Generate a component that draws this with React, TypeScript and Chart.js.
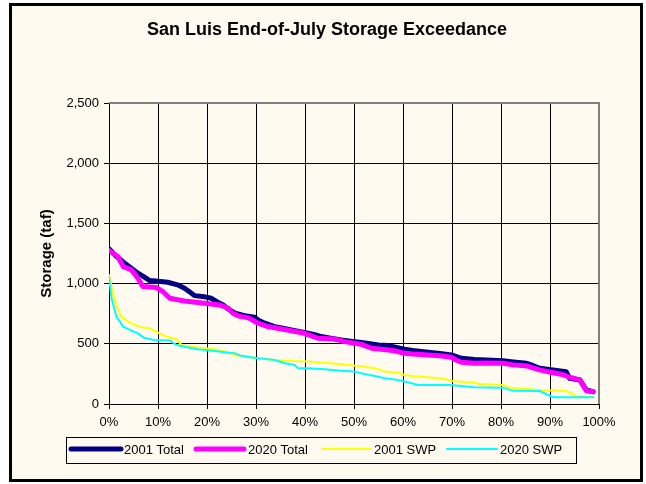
import React, { useEffect, useRef } from "react";
import { Chart, registerables } from "chart.js";

Chart.register(...registerables);

const chartTitle = "San Luis End-of-July Storage Exceedance";
const yAxisTitle = "Storage (taf)";
const seriesNames = ["2001 Total", "2020 Total", "2001 SWP", "2020 SWP"];
const seriesColors = ["#000080", "#FF00FF", "#FFFF00", "#00FFFF"];
const seriesWidths = [5, 5, 2, 2];
const yTickValues = [0, 500, 1000, 1500, 2000, 2500];
const xTickValues = [0, 10, 20, 30, 40, 50, 60, 70, 80, 90, 100];

// exceedance probability (%) and storage (taf)
const total2001Pct = [0, 1.4, 3.2, 4.5, 5.9, 7, 8.3, 10, 12, 14, 15.4, 16.5, 17.5, 19.5, 20.9, 22, 23.3, 24.3, 25.7, 27.7, 29.7, 30.5, 31.8, 33.8, 35.5, 37.2, 39, 40.6, 42, 43.3, 45.5, 47.4, 50.1, 51.5, 53.6, 55, 57, 58.7, 60.3, 62, 65.1, 67.5, 69.9, 71.9, 74.6, 77, 80.4, 82.5, 85.2, 86.5, 87.9, 90.6, 93.3, 94, 96.1, 97.4, 98.8];
const total2001Val = [1290, 1230, 1170, 1130, 1086, 1060, 1025, 1020, 1011, 990, 962, 930, 900, 890, 878, 850, 823, 790, 754, 734, 720, 695, 671, 643, 630, 615, 600, 587, 575, 560, 545, 532, 518, 510, 499, 490, 485, 470, 455, 445, 430, 420, 407, 380, 370, 365, 360, 350, 338, 320, 297, 283, 269, 213, 200, 116, 102];

const total2020Pct = [0, 1.8, 2.9, 4.6, 5.9, 6.9, 9.7, 11, 12.4, 15.4, 19.5, 22.6, 24.3, 25.3, 26.5, 28.5, 30.4, 32.4, 35, 37.2, 39.9, 41, 42.6, 46, 48.1, 50.1, 51.5, 53.6, 57, 58.5, 60.3, 62, 65.1, 67.5, 69.9, 70.8, 71.9, 74.6, 77, 80.4, 82.5, 85.2, 86.5, 87.9, 90.6, 92.5, 94, 96.1, 97.4, 98.8];
const total2020Val = [1275, 1225, 1141, 1114, 1045, 975, 967, 934, 878, 856, 837, 823, 795, 754, 730, 715, 671, 643, 625, 609, 587, 570, 546, 540, 518, 504, 495, 463, 449, 440, 421, 415, 407, 400, 388, 365, 347, 338, 340, 338, 325, 316, 300, 283, 260, 245, 222, 200, 111, 102];

const swp2001Pct = [0, 0.8, 1.5, 2.5, 4.2, 6.6, 8.3, 10, 11.7, 13.8, 14.8, 16.8, 21.6, 23.6, 26.3, 28.5, 30.4, 33.8, 37.2, 40.6, 44, 47.4, 50.8, 53.6, 55, 56.3, 59, 60.3, 62, 65.1, 68.5, 69.9, 72, 74.6, 75.6, 80.4, 82.4, 85.2, 87.9, 93.3, 95.4, 98.8];
const swp2001Val = [1072, 920, 820, 726, 676, 637, 630, 593, 560, 538, 490, 476, 454, 437, 400, 390, 380, 366, 357, 352, 343, 330, 316, 302, 290, 269, 260, 241, 232, 222, 208, 191, 185, 177, 166, 158, 130, 125, 116, 108, 66, 56];

const swp2020Pct = [0, 0.5, 1.5, 2.9, 4.6, 5.9, 7.1, 9.3, 12.4, 13.8, 15.4, 18.2, 21.6, 23.6, 25.7, 27, 30.4, 33.8, 35.9, 37.9, 38.6, 40.6, 44, 47.4, 50.1, 52.2, 54, 56.3, 59, 61, 63.1, 69.9, 73.3, 74.6, 80.4, 82.4, 87.9, 90.6, 98.8];
const swp2020Val = [1060, 880, 726, 643, 610, 587, 551, 532, 527, 490, 476, 454, 440, 430, 421, 400, 380, 366, 338, 324, 297, 297, 288, 277, 269, 249, 235, 214, 200, 180, 158, 158, 144, 139, 136, 111, 108, 56, 56];

const seriesPct = [total2001Pct, total2020Pct, swp2001Pct, swp2020Pct];
const seriesVal = [total2001Val, total2020Val, swp2001Val, swp2020Val];

const FONT = "'Liberation Sans', Arial, sans-serif";

const overlayPlugin = {
  id: "overlay",
  afterDraw(chart: any) {
    const ctx = chart.ctx;
    const area = chart.chartArea;
    ctx.save();
    // plot border top/right (gray)
    ctx.strokeStyle = "#808080";
    ctx.lineWidth = 2;
    ctx.beginPath();
    ctx.moveTo(area.left, area.top);
    ctx.lineTo(area.right, area.top);
    ctx.lineTo(area.right, area.bottom);
    ctx.stroke();
    // title
    ctx.fillStyle = "#000";
    ctx.font = `bold 18px ${FONT}`;
    ctx.textAlign = "center";
    ctx.textBaseline = "middle";
    ctx.fillText(chartTitle, 327, 30);
    // legend box
    ctx.strokeStyle = "#000";
    ctx.lineWidth = 1;
    ctx.strokeRect(66.5, 437.5, 510, 26);
    const items = [
      [71, 121, 124],
      [196, 244, 248],
      [322, 371, 374],
      [447, 497, 500],
    ];
    ctx.font = `13px ${FONT}`;
    ctx.textAlign = "left";
    items.forEach((it, i) => {
      ctx.strokeStyle = seriesColors[i];
      ctx.lineWidth = seriesWidths[i];
      ctx.lineCap = "round";
      ctx.beginPath();
      ctx.moveTo(it[0], 449);
      ctx.lineTo(it[1], 449);
      ctx.stroke();
      ctx.fillStyle = "#000";
      ctx.fillText(seriesNames[i], it[2], 450);
    });
    ctx.restore();
  },
};

export default function App() {
  const ref = useRef<HTMLCanvasElement>(null);
  useEffect(() => {
    if (!ref.current) return;
    const datasets = seriesNames.map((name, i) => ({
      label: name,
      data: seriesPct[i].map((p, j) => ({ x: p, y: seriesVal[i][j] })),
      borderColor: seriesColors[i],
      backgroundColor: seriesColors[i],
      borderWidth: seriesWidths[i],
      pointRadius: 0,
      tension: 0,
      borderJoinStyle: "round" as const,
      borderCapStyle: "round" as const,
      order: 4 - i,
    }));
    const chart = new Chart(ref.current, {
      type: "line",
      data: { datasets },
      options: {
        animation: false,
        responsive: false,
        devicePixelRatio: 1,
        layout: { padding: { top: 103, left: 0, right: 47, bottom: 0 } },
        plugins: {
          legend: { display: false },
          title: { display: false },
          tooltip: { enabled: false },
        },
        scales: {
          x: {
            type: "linear",
            min: 0,
            max: 100,
            afterFit: (s: any) => {
              s.height = 80;
            },
            afterBuildTicks: (s: any) => {
              s.ticks = xTickValues.map((v) => ({ value: v }));
            },
            ticks: {
              padding: 6,
              color: "#000",
              font: { family: FONT, size: 13 },
              maxRotation: 0,
              callback: (v: any) => `${v}%`,
            },
            grid: { color: "#000", lineWidth: 1, tickLength: 5, drawTicks: true },
            border: { color: "#000", width: 1 },
          },
          y: {
            type: "linear",
            min: 0,
            max: 2500,
            afterFit: (s: any) => {
              s.width = 109;
            },
            afterBuildTicks: (s: any) => {
              s.ticks = yTickValues.map((v) => ({ value: v }));
            },
            ticks: {
              padding: 5,
              color: "#000",
              font: { family: FONT, size: 13 },
              callback: (v: any) => Number(v).toLocaleString("en-US"),
            },
            grid: { color: "#000", lineWidth: 1, tickLength: 5, drawTicks: true },
            border: { color: "#000", width: 1 },
            title: {
              display: true,
              text: yAxisTitle,
              color: "#000",
              font: { family: FONT, size: 15, weight: "bold" },
              padding: { top: 38, bottom: 0 },
            },
          },
        },
      },
      plugins: [overlayPlugin],
    });
    return () => chart.destroy();
  }, []);

  return (
    <div style={{ position: "fixed", left: 0, top: 0, width: 646, height: 484, background: "#fff" }}>
      <div
        style={{
          position: "absolute",
          left: 9,
          top: 3,
          width: 634,
          height: 479,
          border: "3px solid #000",
          boxSizing: "border-box",
          background: "#FFFAF0",
        }}
      />
      <canvas
        ref={ref}
        width={646}
        height={484}
        style={{ position: "absolute", left: 0, top: 0, width: 646, height: 484 }}
      />
    </div>
  );
}
